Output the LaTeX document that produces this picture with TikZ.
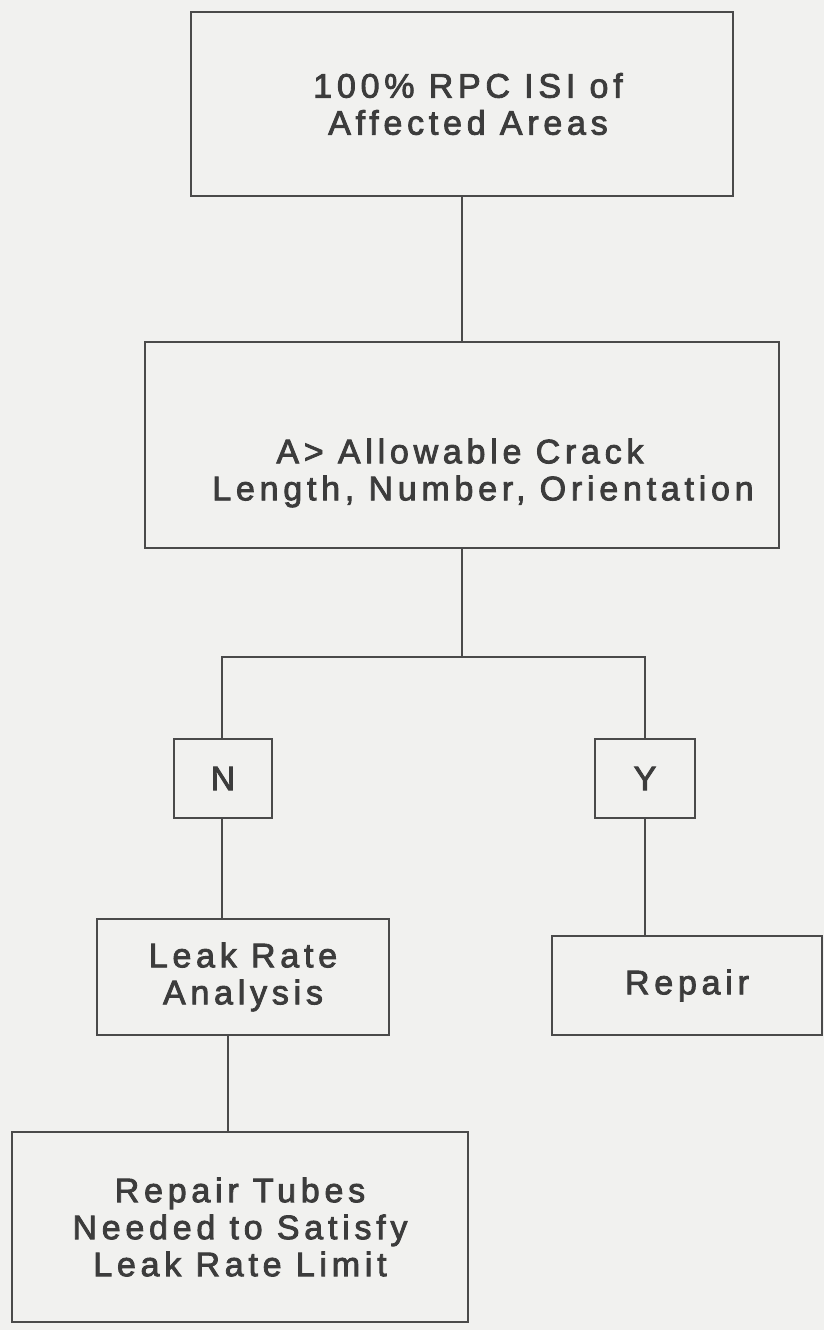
\documentclass[tikz,border=0pt]{standalone}
\usepackage{fontspec}
\setmainfont{Liberation Sans}[LetterSpace=14, FakeBold=2.5]
\definecolor{ink}{HTML}{4A4A4A}
\definecolor{txt}{HTML}{3C3C3C}
\definecolor{paper}{HTML}{F1F1EF}
\begin{document}
\begin{tikzpicture}[x=1pt,y=-1pt,
  box/.style={draw=ink, line width=1.8pt, inner sep=0pt, align=center, text=txt,
    font=\fontsize{34}{37}\selectfont},
  lbl/.style={inner sep=0pt, align=center, text=txt, font=\fontsize{34}{37}\selectfont},
  conn/.style={draw=ink, line width=1.6pt}]
\fill[paper] (0,0) rectangle (824,1330);
\useasboundingbox (0,0) rectangle (824,1330);
\node[box, minimum width=542pt, minimum height=184pt] (b1) at (462,104) {\hspace*{12pt}100\% RPC ISI of\\\hspace*{12pt}Affected Areas};
\node[box, minimum width=634pt, minimum height=206pt] (b2) at (462,445) {};
\node[lbl] (b2t) at (460,473) {A> Allowable Crack\\\hspace*{46pt}Length, Number, Orientation};
\node[box, minimum width=98pt, minimum height=79pt] (n) at (223,778.5) {N};
\node[box, minimum width=100pt, minimum height=79pt] (y) at (645,778.5) {Y};
\node[box, minimum width=292pt, minimum height=116pt] (leak) at (243,977) {Leak Rate\\Analysis};
\node[box, minimum width=270pt, minimum height=99pt] (rep) at (687,985.5) {Repair};
\node[box, minimum width=456pt, minimum height=190pt] (tubes) at (240,1227) {Repair Tubes\\Needed to Satisfy\\Leak Rate Limit};
\coordinate (bl) at (222,657);
\coordinate (brr) at (645,657);
\coordinate (bm) at (462,657);
\draw[conn] (b1.south) -- (b2.north);
\draw[conn] (b2.south) -- (bm);
\draw[conn] (n.north -| bl) -- (bl) -- (brr) -- (y.north -| brr);
\draw[conn] (n.south -| bl) -- (leak.north -| bl);
\draw[conn] (y.south -| brr) -- (rep.north -| brr);
\draw[conn] ([xshift=-15pt]leak.south) -- ([xshift=-15pt]leak.south |- tubes.north);
\end{tikzpicture}
\end{document}
